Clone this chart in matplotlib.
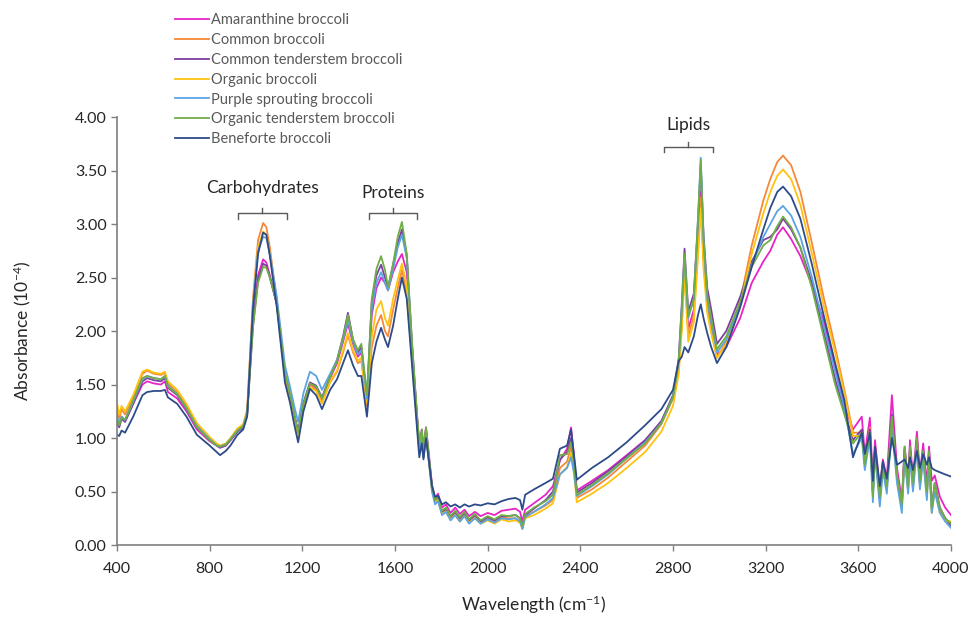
import matplotlib
matplotlib.use("Agg")
import matplotlib.pyplot as plt

plt.rcParams['font.family'] = ['Lato', 'DejaVu Sans']
plt.rcParams['mathtext.default'] = 'regular'

# ------------------------------
# DATA
# ------------------------------
wavenumber = [
    400, 410, 420, 435, 470, 510, 530, 560, 590, 607,
    620, 660, 700, 745, 800, 830, 845, 870, 890, 920,
    945, 962, 987, 1009, 1031, 1045, 1060, 1090, 1112, 1125,
    1147, 1165, 1182, 1205, 1233, 1260, 1285, 1320, 1350, 1376,
    1397, 1419, 1440, 1455, 1479, 1500, 1520, 1540, 1557, 1570,
    1592, 1612, 1630, 1651, 1673, 1695, 1705, 1716, 1723, 1734,
    1760, 1773, 1786, 1803, 1820, 1840, 1860, 1880, 1900, 1920,
    1945, 1970, 2000, 2030, 2060, 2090, 2120, 2140, 2150, 2162,
    2200, 2250, 2282, 2312, 2343, 2360, 2372, 2385, 2450, 2520,
    2600, 2680, 2750, 2800, 2825, 2838, 2850, 2866, 2890, 2908,
    2920, 2932, 2948, 2965, 2990, 3030, 3090, 3140, 3190, 3220,
    3250, 3275, 3310, 3350, 3400, 3450, 3500, 3540, 3577, 3615,
    3628, 3650, 3663, 3672, 3693, 3706, 3723, 3745, 3767, 3788,
    3800, 3815, 3823, 3836, 3853, 3866, 3880, 3896, 3905, 3917,
    3930, 3952, 3975, 4000,
]

amaranthine = [
    1.18, 1.12, 1.20, 1.16, 1.32, 1.50, 1.53, 1.51, 1.50, 1.53,
    1.43, 1.37, 1.25, 1.08, 0.97, 0.93, 0.91, 0.93, 0.98, 1.06,
    1.10, 1.22, 2.10, 2.52, 2.67, 2.64, 2.52, 2.25, 1.85, 1.60,
    1.40, 1.22, 1.06, 1.32, 1.50, 1.47, 1.36, 1.56, 1.70, 1.90,
    2.07, 1.88, 1.76, 1.80, 1.36, 2.15, 2.40, 2.50, 2.45, 2.38,
    2.55, 2.65, 2.72, 2.55, 1.85, 1.22, 0.95, 1.08, 0.90, 1.10,
    0.56, 0.44, 0.48, 0.35, 0.38, 0.30, 0.35, 0.29, 0.33, 0.27,
    0.31, 0.27, 0.30, 0.28, 0.32, 0.33, 0.34, 0.31, 0.22, 0.33,
    0.39, 0.47, 0.55, 0.79, 0.90, 1.10, 0.85, 0.51, 0.60, 0.70,
    0.84, 0.98, 1.15, 1.38, 1.68, 2.15, 2.65, 2.02, 2.20, 2.80,
    3.30, 2.70, 2.26, 2.02, 1.78, 1.85, 2.12, 2.45, 2.65, 2.75,
    2.90, 2.97, 2.86, 2.70, 2.43, 2.10, 1.66, 1.30, 1.08, 1.20,
    0.85, 1.19, 0.58, 0.98, 0.52, 0.80, 0.62, 1.40, 0.72, 0.42,
    0.92, 0.60, 0.98, 0.62, 1.06, 0.66, 0.95, 0.56, 0.92, 0.60,
    0.65, 0.45, 0.35, 0.28,
]

common = [
    1.25, 1.18, 1.27, 1.22, 1.38, 1.60, 1.63, 1.60, 1.59, 1.61,
    1.51, 1.43, 1.30, 1.12, 1.00, 0.94, 0.92, 0.94, 0.99, 1.08,
    1.12, 1.25, 2.30, 2.85, 3.01, 2.97, 2.78, 2.28, 1.84, 1.58,
    1.38, 1.20, 1.02, 1.30, 1.50, 1.45, 1.33, 1.52, 1.62, 1.80,
    1.96, 1.80, 1.70, 1.72, 1.30, 1.85, 2.05, 2.15, 2.00, 1.95,
    2.20, 2.40, 2.57, 2.35, 1.75, 1.15, 0.88, 1.00, 0.82, 1.05,
    0.52, 0.40, 0.43, 0.30, 0.33, 0.25, 0.30, 0.24, 0.29, 0.22,
    0.27, 0.21, 0.25, 0.22, 0.26, 0.25, 0.25, 0.22, 0.16, 0.27,
    0.31, 0.37, 0.42, 0.72, 0.78, 0.92, 0.75, 0.44, 0.52, 0.63,
    0.78, 0.93, 1.13, 1.37, 1.65, 2.05, 2.60, 1.95, 2.15, 2.75,
    3.25, 2.65, 2.22, 2.00, 1.75, 1.90, 2.28, 2.80, 3.22, 3.42,
    3.58, 3.64, 3.55, 3.30, 2.82, 2.32, 1.85, 1.45, 1.05, 1.05,
    0.80, 1.10, 0.50, 0.88, 0.45, 0.75, 0.55, 1.15, 0.65, 0.38,
    0.85, 0.52, 0.88, 0.55, 0.95, 0.58, 0.85, 0.48, 0.82, 0.33,
    0.55, 0.33, 0.25, 0.20,
]

common_tenderstem = [
    1.15, 1.10, 1.18, 1.15, 1.32, 1.53, 1.56, 1.54, 1.53, 1.56,
    1.47, 1.40, 1.27, 1.10, 0.98, 0.93, 0.91, 0.93, 0.98, 1.06,
    1.10, 1.22, 2.05, 2.48, 2.63, 2.61, 2.50, 2.25, 1.85, 1.60,
    1.40, 1.22, 1.06, 1.33, 1.52, 1.49, 1.38, 1.58, 1.73, 1.95,
    2.17, 1.92, 1.80, 1.85, 1.38, 2.28, 2.52, 2.62, 2.50, 2.40,
    2.62, 2.82, 2.95, 2.70, 1.90, 1.20, 0.92, 1.05, 0.87, 1.08,
    0.54, 0.42, 0.45, 0.31, 0.34, 0.26, 0.31, 0.25, 0.30, 0.23,
    0.28, 0.22, 0.26, 0.23, 0.27, 0.27, 0.28, 0.25, 0.18, 0.28,
    0.34, 0.42, 0.50, 0.80, 0.87, 1.00, 0.80, 0.49, 0.58, 0.69,
    0.83, 0.98, 1.16, 1.40, 1.75, 2.25, 2.77, 2.18, 2.35, 3.00,
    3.55, 2.90, 2.40, 2.20, 1.88, 2.00, 2.32, 2.65, 2.85, 2.88,
    2.95, 3.05, 2.95, 2.78, 2.45, 2.00, 1.55, 1.25, 0.98, 1.08,
    0.78, 1.08, 0.48, 0.90, 0.45, 0.75, 0.55, 1.22, 0.65, 0.38,
    0.90, 0.55, 0.90, 0.57, 0.98, 0.60, 0.88, 0.50, 0.88, 0.35,
    0.58, 0.35, 0.25, 0.18,
]

organic = [
    1.33, 1.22, 1.30, 1.25, 1.40, 1.62, 1.64, 1.61, 1.60, 1.62,
    1.53, 1.45, 1.32, 1.14, 1.01, 0.95, 0.93, 0.95, 1.00, 1.09,
    1.13, 1.27, 2.25, 2.78, 2.93, 2.90, 2.72, 2.26, 1.85, 1.60,
    1.40, 1.20, 1.00, 1.28, 1.47, 1.44, 1.32, 1.53, 1.63, 1.82,
    1.98, 1.82, 1.72, 1.75, 1.33, 1.95, 2.20, 2.28, 2.12, 2.05,
    2.30, 2.48, 2.63, 2.42, 1.80, 1.18, 0.90, 1.02, 0.85, 1.05,
    0.50, 0.40, 0.42, 0.29, 0.31, 0.24, 0.28, 0.22, 0.27, 0.21,
    0.25, 0.20, 0.23, 0.20, 0.24, 0.22, 0.23, 0.21, 0.15, 0.25,
    0.28, 0.34, 0.39, 0.66, 0.73, 0.86, 0.70, 0.40, 0.48, 0.58,
    0.72, 0.87, 1.06, 1.30, 1.60, 2.00, 2.55, 1.90, 2.08, 2.70,
    3.15, 2.58, 2.17, 1.98, 1.75, 1.88, 2.25, 2.72, 3.10, 3.30,
    3.45, 3.51, 3.42, 3.18, 2.72, 2.24, 1.80, 1.42, 1.02, 1.02,
    0.78, 1.05, 0.48, 0.85, 0.42, 0.72, 0.52, 1.12, 0.62, 0.36,
    0.82, 0.50, 0.85, 0.52, 0.92, 0.55, 0.82, 0.45, 0.80, 0.30,
    0.52, 0.30, 0.23, 0.22,
]

purple_sprouting = [
    1.20, 1.14, 1.20, 1.17, 1.34, 1.55, 1.58, 1.56, 1.55, 1.58,
    1.49, 1.41, 1.28, 1.11, 0.99, 0.93, 0.92, 0.94, 0.99, 1.07,
    1.11, 1.24, 2.25, 2.75, 2.88, 2.87, 2.72, 2.32, 1.92, 1.68,
    1.48, 1.30, 1.15, 1.42, 1.62, 1.58, 1.45, 1.60, 1.73, 1.92,
    2.10, 1.90, 1.78, 1.82, 1.37, 2.22, 2.45, 2.55, 2.45, 2.38,
    2.58, 2.78, 2.90, 2.68, 1.88, 1.18, 0.88, 1.00, 0.82, 1.02,
    0.50, 0.38, 0.41, 0.28, 0.31, 0.23, 0.28, 0.22, 0.27, 0.20,
    0.25, 0.20, 0.24, 0.21, 0.25, 0.24, 0.25, 0.22, 0.15, 0.26,
    0.31, 0.38, 0.44, 0.66, 0.72, 0.82, 0.68, 0.46, 0.55, 0.66,
    0.81, 0.96, 1.14, 1.38, 1.72, 2.20, 2.70, 2.12, 2.30, 3.05,
    3.62, 2.85, 2.30, 2.08, 1.80, 1.92, 2.25, 2.62, 2.88, 3.00,
    3.12, 3.17, 3.08, 2.88, 2.50, 2.05, 1.62, 1.28, 0.85, 1.00,
    0.70, 1.00, 0.40, 0.85, 0.36, 0.70, 0.48, 1.10, 0.58, 0.30,
    0.82, 0.48, 0.82, 0.50, 0.90, 0.52, 0.80, 0.42, 0.80, 0.30,
    0.50, 0.30, 0.22, 0.16,
]

organic_tenderstem = [
    1.17, 1.12, 1.19, 1.17, 1.35, 1.56, 1.58, 1.56, 1.55, 1.58,
    1.48, 1.41, 1.28, 1.10, 0.98, 0.93, 0.92, 0.94, 0.99, 1.07,
    1.11, 1.23, 2.03, 2.45, 2.60, 2.59, 2.50, 2.26, 1.86, 1.61,
    1.41, 1.22, 1.05, 1.32, 1.51, 1.48, 1.37, 1.57, 1.72, 1.94,
    2.15, 1.92, 1.82, 1.88, 1.40, 2.30, 2.58, 2.70, 2.57, 2.41,
    2.63, 2.88, 3.02, 2.72, 1.92, 1.22, 0.95, 1.08, 0.90, 1.10,
    0.55, 0.42, 0.46, 0.32, 0.35, 0.27, 0.32, 0.26, 0.31, 0.24,
    0.29, 0.23, 0.27, 0.24, 0.28, 0.27, 0.28, 0.25, 0.18, 0.29,
    0.35, 0.41, 0.47, 0.84, 0.85, 0.96, 0.78, 0.47, 0.56, 0.67,
    0.81, 0.95, 1.14, 1.38, 1.72, 2.20, 2.72, 2.14, 2.30, 3.05,
    3.60, 2.85, 2.33, 2.12, 1.83, 1.95, 2.27, 2.60, 2.80, 2.85,
    2.98, 3.07, 2.97, 2.78, 2.40, 1.95, 1.50, 1.22, 0.95, 1.05,
    0.75, 1.05, 0.45, 0.90, 0.45, 0.75, 0.55, 1.20, 0.65, 0.38,
    0.92, 0.55, 0.92, 0.58, 1.00, 0.60, 0.88, 0.50, 0.88, 0.35,
    0.58, 0.35, 0.25, 0.20,
]

beneforte = [
    1.03, 1.02, 1.07, 1.05, 1.20, 1.40, 1.43, 1.44, 1.44, 1.45,
    1.38, 1.32, 1.20, 1.03, 0.93, 0.87, 0.84, 0.88, 0.93, 1.03,
    1.08, 1.20, 2.20, 2.72, 2.92, 2.90, 2.70, 2.22, 1.78, 1.52,
    1.33, 1.13, 0.96, 1.25, 1.46, 1.40, 1.27, 1.45, 1.55, 1.70,
    1.82, 1.68, 1.58, 1.58, 1.20, 1.70, 1.90, 2.03, 1.92, 1.85,
    2.05, 2.30, 2.50, 2.30, 1.70, 1.10, 0.82, 0.95, 0.80, 1.00,
    0.55, 0.45, 0.46, 0.38, 0.40, 0.36, 0.38, 0.35, 0.38, 0.36,
    0.38, 0.37, 0.39, 0.38, 0.41, 0.43, 0.44, 0.42, 0.33, 0.47,
    0.52, 0.58, 0.62, 0.90, 0.93, 1.08, 0.85, 0.61, 0.72, 0.82,
    0.96, 1.12, 1.27, 1.45, 1.72, 1.76, 1.85, 1.80, 1.95, 2.15,
    2.25, 2.12, 1.98, 1.85, 1.70, 1.85, 2.22, 2.60, 2.95, 3.15,
    3.30, 3.35, 3.26, 3.05, 2.62, 2.15, 1.70, 1.35, 0.82, 1.05,
    0.85, 1.05, 0.60, 0.92, 0.55, 0.78, 0.62, 1.00, 0.75, 0.78,
    0.80, 0.72, 0.82, 0.70, 0.88, 0.72, 0.85, 0.75, 0.82, 0.72,
    0.70, 0.68, 0.66, 0.64,
]

series_names = [
    "Amaranthine broccoli", "Common broccoli", "Common tenderstem broccoli",
    "Organic broccoli", "Purple sprouting broccoli", "Organic tenderstem broccoli",
    "Beneforte broccoli",
]
series_values = [amaranthine, common, common_tenderstem, organic,
                 purple_sprouting, organic_tenderstem, beneforte]
colors = ["#E824C6", "#F5883A", "#7E3FA3", "#FFC20E",
          "#5BA4E2", "#6FAD46", "#2D4B8A"]

# ---------------------------
# FIGURE
# ---------------------------
fig = plt.figure(figsize=(9.69, 6.19), dpi=100)
ax = fig.add_axes([0.1207, 0.1195, 0.8607, 0.6914])

for name, vals, c in zip(series_names, series_values, colors):
    ax.plot(wavenumber, vals, color=c, lw=1.3, label=name)

ax.set_xlim(400, 4000)
ax.set_ylim(0, 4)
ax.set_xticks(range(400, 4001, 400))
ax.set_yticks([i * 0.5 for i in range(9)])
ax.yaxis.set_major_formatter(matplotlib.ticker.FormatStrFormatter('%.2f'))

for s in ['top', 'right']:
    ax.spines[s].set_visible(False)
for s in ['left', 'bottom']:
    ax.spines[s].set_color('#7f7f7f')
    ax.spines[s].set_linewidth(1.2)
ax.tick_params(colors='#7f7f7f', labelcolor='#262626', labelsize=11.5,
               length=4, width=1)
ax.tick_params(axis='x', pad=8)

ax.set_xlabel(r'Wavelength (cm$^{-1}$)', fontsize=12.5, color='#262626', labelpad=13)
ax.set_ylabel(r'Absorbance (10$^{-4}$)', fontsize=12.5, color='#262626', labelpad=30)

# ---- brackets + group labels ----
def bracket(x0, x1, y, text, ty):
    xm = (x0 + x1) / 2
    ax.plot([x0, x0, x1, x1], [y - 0.05, y, y, y - 0.05], color='#595959', lw=1)
    ax.plot([xm, xm], [y, y + 0.05], color='#595959', lw=1)
    ax.text(xm, ty, text, ha='center', va='center', fontsize=12.5, color='#262626')

bracket(922, 1134, 3.10, "Carbohydrates", 3.34)
bracket(1488, 1695, 3.10, "Proteins", 3.29)
bracket(2761, 2973, 3.72, "Lipids", 3.93)

# ---- legend ----
fig.legend(loc='upper left', bbox_to_anchor=(0.175, 0.988), frameon=False,
           fontsize=10.5, labelcolor='#595959', handlelength=2.3,
           handletextpad=0.15, labelspacing=0.4, borderaxespad=0)

plt.savefig('out.png', dpi=100)
plt.close()
